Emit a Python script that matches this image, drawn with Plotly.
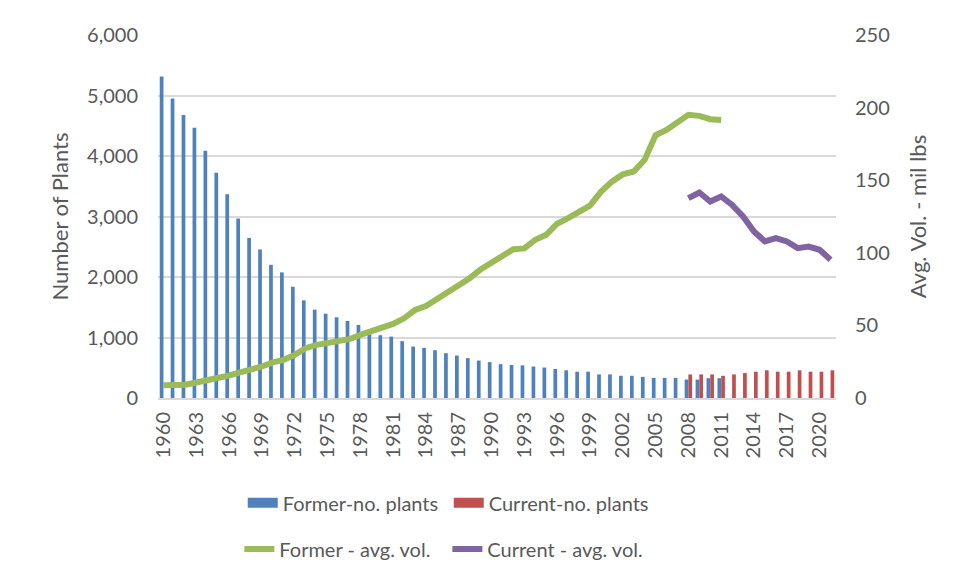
import plotly.graph_objects as go

former_years = list(range(1960, 2012))
current_years = list(range(2008, 2022))

former_plants = [5315, 4952, 4679, 4465, 4086, 3723, 3366, 2965, 2646, 2455,
                 2201, 2076, 1839, 1614, 1460, 1394, 1334, 1273, 1208, 1125,
                 1038, 1015, 939, 850, 829, 790, 741, 702, 659, 619,
                 593, 560, 545, 540, 520, 503, 480, 458, 435, 435,
                 390, 390, 367, 367, 350, 333, 333, 333, 305, 305,
                 328, 328]
current_plants = [390, 390, 390, 367, 390, 412, 435, 458, 435, 435, 458, 435, 435, 458]

former_vol = [8.7, 8.4, 9.1, 10.7, 12.1, 13.7, 15.5, 17.6, 19.4, 21.7,
              24.5, 26.3, 29.7, 34.3, 36.6, 37.8, 39.4, 40.5, 43.5, 46.2,
              48.8, 51.0, 54.9, 60.6, 63.4, 68.0, 73.2, 77.8, 82.5, 88.5,
              93.0, 97.5, 102.5, 103.0, 109.0, 112.4, 120.0, 123.9, 128.4, 132.5,
              142.0, 149.0, 154.0, 156.0, 164.0, 181.0, 184.6, 190.0, 195.0, 194.3,
              192.0, 191.5]
current_vol = [137.6, 141.5, 135.3, 138.8, 133.0, 125.0, 114.7, 107.8, 110.1, 107.8,
               103.2, 104.3, 102.1, 95.2]

year_ticks = list(range(1960, 2021, 3))

blue, red, green, purple = "#4f81bd", "#c0504d", "#9bbb59", "#8064a2"
grey = "#595959"

fig = go.Figure()
fig.add_trace(go.Bar(x=former_years, y=former_plants, name="Former-no. plants",
                     marker=dict(color=blue, line=dict(width=0)), showlegend=False))
fig.add_trace(go.Bar(x=current_years, y=current_plants, name="Current-no. plants",
                     marker=dict(color=red, line=dict(width=0)), showlegend=False))
fig.add_trace(go.Scatter(x=former_years, y=former_vol, name="Former - avg. vol.", yaxis="y2",
                         mode="lines", line=dict(color=green, width=6), legend="legend2"))
fig.add_trace(go.Scatter(x=current_years, y=current_vol, name="Current - avg. vol.", yaxis="y2",
                         mode="lines", line=dict(color=purple, width=6), legend="legend2"))

# wide swatches for the bar series in the legend
fig.add_trace(go.Scatter(x=[None], y=[None], name="Former-no. plants", mode="lines",
                         line=dict(color=blue, width=11), legend="legend"))
fig.add_trace(go.Scatter(x=[None], y=[None], name="Current-no. plants", mode="lines",
                         line=dict(color=red, width=11), legend="legend"))

# page body adds an 8px margin, so the figure is 8px smaller than the window
fig.update_layout(
    width=949, height=572,
    margin=dict(l=150, r=121, t=27, b=182, autoexpand=False),
    font=dict(family="Lato", size=20, color=grey),
    paper_bgcolor="white", plot_bgcolor="white",
    barmode="group", bargap=0.32, bargroupgap=0,
    xaxis=dict(range=[1959.5, 2021.5], tickmode="array", tickvals=year_ticks,
               tickangle=-90, showgrid=False, showline=True, linecolor="#d9d9d9",
               linewidth=2, ticks="", ticklabelstandoff=4, zeroline=False,
               automargin=False),
    yaxis=dict(range=[0, 6000], dtick=1000, tickformat=",", showgrid=True,
               gridcolor="#d9d9d9", gridwidth=1.5, zeroline=False, showline=False,
               ticklabelstandoff=19, automargin=False,
               title=dict(text="Number of Plants", font=dict(size=22), standoff=12)),
    yaxis2=dict(range=[0, 250], dtick=50, overlaying="y", side="right", showgrid=False,
                zeroline=False, showline=False, ticklabelstandoff=18, automargin=False,
                title=dict(text="Avg. Vol. - mil lbs", font=dict(size=22), standoff=21)),
    legend=dict(orientation="h", x=0.125, xanchor="left", y=-0.235, yanchor="top",
                entrywidth=161, entrywidthmode="pixels", font=dict(size=20),
                bgcolor="rgba(0,0,0,0)"),
    legend2=dict(orientation="h", x=0.12, xanchor="left", y=-0.362, yanchor="top",
                 entrywidth=163, entrywidthmode="pixels", font=dict(size=20),
                 bgcolor="rgba(0,0,0,0)"),
)

fig.write_html("out.html")
